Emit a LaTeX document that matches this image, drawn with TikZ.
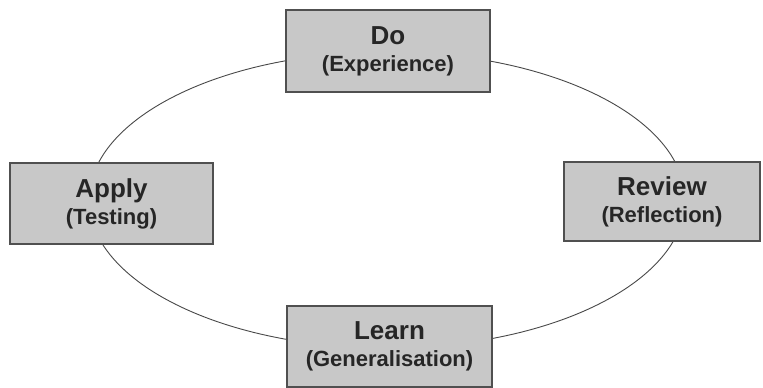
\documentclass[tikz,border=0pt]{standalone}
\usepackage{fontspec}
\setmainfont{Liberation Sans}
\definecolor{boxfill}{HTML}{C8C8C8}
\definecolor{boxedge}{HTML}{505050}
\definecolor{ink}{HTML}{262626}
\definecolor{ringcol}{HTML}{484848}
\newcommand{\stagetitle}[1]{{\fontsize{26}{27}\selectfont #1}}
\begin{document}
\begin{tikzpicture}[x=1pt,y=1pt,
  stage/.style={draw=boxedge, line width=1.1pt, fill=boxfill, text=ink,
    align=center, inner sep=0pt, font=\bfseries\fontsize{22}{27}\selectfont},
  ring/.style={draw=ringcol, line width=0.9pt}]
\useasboundingbox (0,0) rectangle (763,388);
% the cycle, drawn first so the boxes sit on top of it
\draw[ring] (387,188) ellipse [x radius=298, y radius=148];
% the four stages
\node[stage, minimum width=204pt, minimum height=82pt] (do) at (388,337)
  {\stagetitle{Do}\\(Experience)};
\node[stage, minimum width=203pt, minimum height=81pt] (apply) at (111.5,184.5)
  {\stagetitle{Apply}\\(Testing)};
\node[stage, minimum width=196pt, minimum height=79pt] (review) at (662,186.5)
  {\stagetitle{Review}\\(Reflection)};
\node[stage, minimum width=205pt, minimum height=81pt] (learn) at (389.5,41.5)
  {\stagetitle{Learn}\\(Generalisation)};
\end{tikzpicture}
\end{document}
